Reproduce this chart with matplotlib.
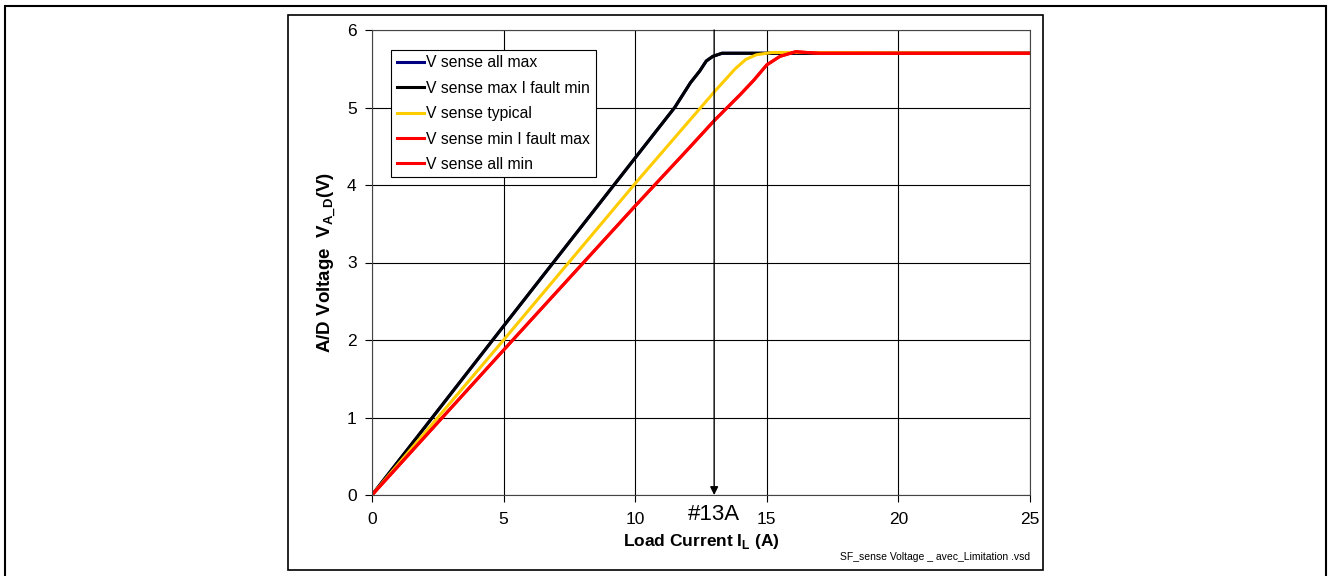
import matplotlib
matplotlib.use('Agg')
import matplotlib.pyplot as plt
from matplotlib.patches import Rectangle

plt.rcParams['font.family'] = ['Liberation Sans', 'DejaVu Sans']

# curves: load current (A) -> A/D voltage (V)
x_max = [0, 5, 10, 11.5, 12.1, 12.45, 12.7, 12.95, 13.3, 14, 25]
v_all_max = [0, 2.18, 4.35, 5.0, 5.32, 5.47, 5.6, 5.66, 5.7, 5.7, 5.7]
v_max_fault_min = [0, 2.18, 4.35, 5.0, 5.32, 5.47, 5.6, 5.66, 5.7, 5.7, 5.7]

x_typ = [0, 5, 10, 13, 13.8, 14.2, 14.6, 15.2, 16, 25]
v_typical = [0, 2.0, 4.02, 5.2, 5.5, 5.62, 5.68, 5.71, 5.71, 5.7]

x_min = [0, 5, 10, 12, 13, 14, 14.5, 15, 15.5, 16.1, 16.5, 17, 25]
v_min_fault_max = [0, 1.87, 3.73, 4.46, 4.83, 5.17, 5.35, 5.55, 5.66, 5.72, 5.71, 5.7, 5.7]
v_all_min = [0, 1.87, 3.73, 4.46, 4.83, 5.17, 5.35, 5.55, 5.66, 5.72, 5.71, 5.7, 5.7]

x_ticks = [0, 5, 10, 15, 20, 25]
y_ticks = [0, 1, 2, 3, 4, 5, 6]
marker_current = 13

fig = plt.figure(figsize=(13.29, 5.76), dpi=100)
ax = fig.add_axes([372 / 1329, 1 - 495 / 576, 658 / 1329, 465 / 576])

lw = 2.2
ax.plot(x_max, v_all_max, color='#000080', lw=lw, label='V sense all max')
ax.plot(x_max, v_max_fault_min, color='black', lw=lw, label='V sense max I fault min')
ax.plot(x_typ, v_typical, color='#FFCC00', lw=lw, label='V sense typical')
ax.plot(x_min, v_min_fault_max, color='#FF0000', lw=lw, label='V sense min I fault max')
ax.plot(x_min, v_all_min, color='#FF0000', lw=lw, label='V sense all min')

ax.set_xlim(0, 25)
ax.set_ylim(0, 6)
ax.set_xticks(x_ticks)
ax.set_yticks(y_ticks)
ax.grid(True, color='black', lw=0.8)
ax.set_axisbelow(True)
ax.tick_params(direction='out', length=5, width=0.8, labelsize=12.5)
ax.tick_params(axis='x', pad=7)
ax.tick_params(axis='y', pad=6)
for s in ax.spines.values():
    s.set_linewidth(0.8)
    s.set_color('#444444')

ax.set_xlabel('Load Current I$_\\mathregular{L}$ (A)', fontsize=12.5, fontweight='bold', labelpad=4)
ax.set_ylabel('A/D Voltage  V$_\\mathregular{A\\_D}$(V)', fontsize=13.5, fontweight='bold', labelpad=6)

leg = ax.legend(loc='upper left', bbox_to_anchor=(0.029, 0.957), fontsize=11.3,
                frameon=True, fancybox=False, framealpha=1, edgecolor='black',
                handlelength=1.75, handletextpad=0.15, labelspacing=0.66,
                borderpad=0.35, borderaxespad=0)
leg.get_frame().set_linewidth(0.8)

# 13 A marker arrow
ax.annotate('', xy=(marker_current, 0), xytext=(marker_current, 6),
            arrowprops=dict(arrowstyle='-|>', color='black', lw=1, mutation_scale=12,
                            shrinkA=0, shrinkB=0))
ax.text(marker_current, -0.12, '#13A', ha='center', va='top', fontsize=16, clip_on=False)

fig.text(1030 / 1329, 1 - 557 / 576, 'SF_sense Voltage _ avec_Limitation .vsd',
         ha='right', va='center', fontsize=7.5)

# frames around the drawing
fig.patches.append(Rectangle((5 / 1329, -0.01), 1321 / 1329, 1 - 6 / 576 + 0.01,
                             transform=fig.transFigure, fill=False, lw=1.5, ec='black'))
fig.patches.append(Rectangle((288 / 1329, 1 - 570 / 576), 755 / 1329, 555 / 576,
                             transform=fig.transFigure, fill=False, lw=1.2, ec='black'))

fig.savefig('out.png', dpi=100)
